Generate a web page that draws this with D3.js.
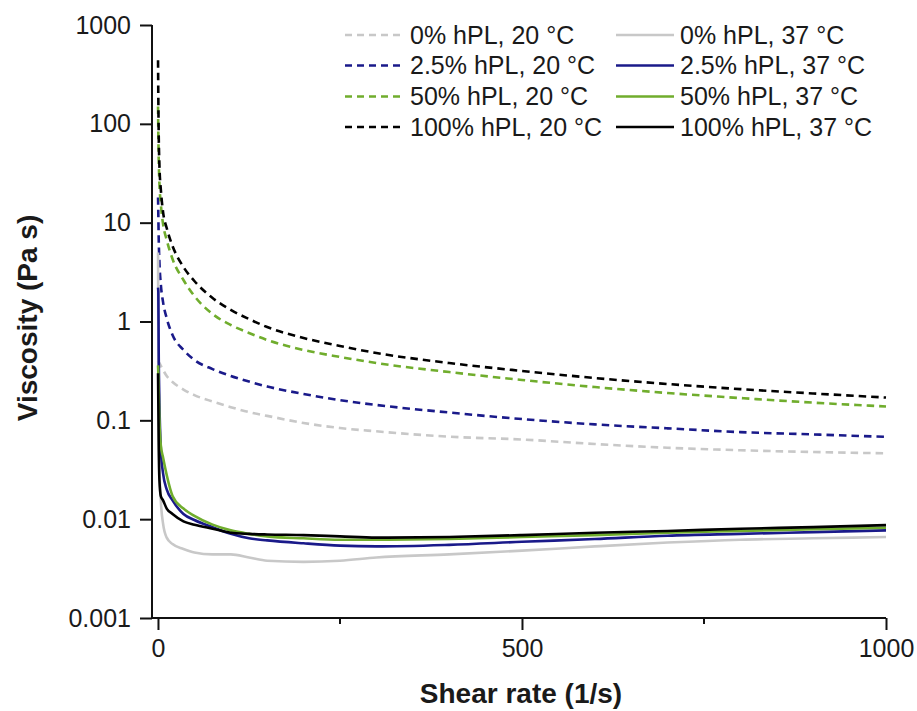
<!DOCTYPE html>
<html>
<head>
<meta charset="utf-8">
<script src="https://cdn.jsdelivr.net/npm/d3@7"></script>
<style>
  html, body { margin: 0; padding: 0; background: #ffffff; }
  svg { display: block; }
</style>
</head>
<body>
<svg id="chart" width="917" height="711"></svg>
<script>
// Shear rate samples (1/s)
const shearRate = [0.1, 0.5, 1, 2, 4, 7, 12, 20, 35, 50, 75, 100, 125, 150, 200, 250, 300, 400, 500, 600, 700, 800, 900, 1000];

// Viscosity (Pa s) — 20 °C (dashed)
const hPL0_20   = [0.40, 0.39, 0.385, 0.380, 0.355, 0.323, 0.281, 0.244, 0.205, 0.180, 0.155, 0.136, 0.121, 0.111, 0.094, 0.0836, 0.0774, 0.0683, 0.0640, 0.0576, 0.0528, 0.0498, 0.0478, 0.0464];
const hPL25_20  = [18, 12, 7, 4, 2.34, 1.57, 1.08, 0.73, 0.515, 0.408, 0.330, 0.281, 0.247, 0.220, 0.185, 0.160, 0.143, 0.120, 0.103, 0.091, 0.083, 0.076, 0.072, 0.068];
const hPL50_20  = [150, 80, 45, 25, 15.1, 9.7, 6.68, 4.29, 2.63, 1.81, 1.19, 0.922, 0.766, 0.650, 0.515, 0.438, 0.380, 0.308, 0.256, 0.217, 0.189, 0.168, 0.151, 0.138];
const hPL100_20 = [440, 180, 80, 38, 21.4, 12.8, 8.83, 5.81, 3.56, 2.57, 1.73, 1.31, 1.06, 0.879, 0.681, 0.565, 0.480, 0.380, 0.316, 0.268, 0.233, 0.207, 0.187, 0.170];

// Viscosity (Pa s) — 37 °C (solid)
const hPL0_37   = [5, 0.6, 0.1, 0.035, 0.015, 0.009, 0.0065, 0.0056, 0.0050, 0.0046, 0.0044, 0.0044, 0.0041, 0.0038, 0.0037, 0.0038, 0.0041, 0.0044, 0.0048, 0.0053, 0.0058, 0.0062, 0.0064, 0.0066];
const hPL25_37  = [2.2, 2.0, 0.5, 0.15, 0.05, 0.029, 0.02, 0.0155, 0.0113, 0.0098, 0.0083, 0.0071, 0.0064, 0.0061, 0.0057, 0.0054, 0.0053, 0.0055, 0.0059, 0.0063, 0.0068, 0.0071, 0.0074, 0.0077];
const hPL50_37  = [0.36, 0.3, 0.2, 0.1, 0.055, 0.042, 0.028, 0.0172, 0.0128, 0.0108, 0.0088, 0.0077, 0.0071, 0.0067, 0.0064, 0.0062, 0.0062, 0.0063, 0.0066, 0.0069, 0.0073, 0.0076, 0.0079, 0.0082];
const hPL100_37 = [0.3, 0.15, 0.06, 0.025, 0.017, 0.0155, 0.0128, 0.0113, 0.0095, 0.0088, 0.008, 0.0073, 0.0071, 0.007, 0.0069, 0.0067, 0.0065, 0.0066, 0.0069, 0.0073, 0.0076, 0.008, 0.0083, 0.0087];

const seriesNames = ["0% hPL, 20 °C", "2.5% hPL, 20 °C", "50% hPL, 20 °C", "100% hPL, 20 °C",
                     "0% hPL, 37 °C", "2.5% hPL, 37 °C", "50% hPL, 37 °C", "100% hPL, 37 °C"];
const seriesValues = [hPL0_20, hPL25_20, hPL50_20, hPL100_20, hPL0_37, hPL25_37, hPL50_37, hPL100_37];

const yTicks = [0.001, 0.01, 0.1, 1, 10, 100, 1000];
const yTickLabels = ["0.001", "0.01", "0.1", "1", "10", "100", "1000"];
const xTicksMajor = [0, 500, 1000];
const xTicksMinor = [250, 750];

const colors = ["#c8c8c8", "#1a1a8a", "#70ad2d", "#000000"];

const svg = d3.select("#chart");
const x = d3.scaleLinear().domain([-8.2, 1000]).range([152, 886]);
const y = d3.scaleLog().domain([0.001, 1000]).range([618, 25]);

const FONT = "'Liberation Sans', Arial, sans-serif";

// Lines
const line = d3.line()
  .x((d, i) => x(shearRate[i]))
  .y(d => y(d))
  .curve(d3.curveMonotoneX);

[0, 1, 2, 3, 4, 5, 6, 7].forEach(k => {
  const dashed = k < 4;
  svg.append("path")
    .datum(seriesValues[k])
    .attr("d", line)
    .attr("fill", "none")
    .attr("stroke", colors[k % 4])
    .attr("stroke-width", 2.6)
    .attr("stroke-dasharray", dashed ? "7.5,5" : null)
    .attr("stroke-linejoin", "round");
});

// Y axis
const yAxis = d3.axisLeft(y)
  .tickValues(yTicks)
  .tickFormat((d, i) => yTickLabels[i])
  .tickSize(12)
  .tickPadding(9);
const gy = svg.append("g").attr("transform", "translate(152,0)").call(yAxis);
gy.select(".domain").attr("d", "M0,25V618").attr("stroke-width", 2).attr("stroke", "#111");
gy.selectAll(".tick line").attr("stroke-width", 2).attr("stroke", "#111");
gy.selectAll(".tick text").attr("font-family", FONT).attr("font-size", 25).attr("fill", "#1a1a1a");

// X axis
const xAxis = d3.axisBottom(x)
  .tickValues(xTicksMajor)
  .tickFormat(d3.format("d"))
  .tickSize(12)
  .tickPadding(9);
const gx = svg.append("g").attr("transform", "translate(0,618)").call(xAxis);
gx.select(".domain").attr("d", "M152,0H886").attr("stroke-width", 2).attr("stroke", "#111");
gx.selectAll(".tick line").attr("stroke-width", 2).attr("stroke", "#111");
gx.selectAll(".tick text").attr("font-family", FONT).attr("font-size", 25).attr("fill", "#1a1a1a");

svg.append("g").selectAll("line.minor")
  .data(xTicksMinor).enter().append("line")
  .attr("x1", d => x(d)).attr("x2", d => x(d))
  .attr("y1", 618).attr("y2", 624)
  .attr("stroke", "#111").attr("stroke-width", 2);

// Axis titles
svg.append("text")
  .attr("x", 521).attr("y", 703)
  .attr("text-anchor", "middle")
  .attr("font-family", FONT).attr("font-weight", "bold").attr("font-size", 28)
  .attr("fill", "#1a1a1a")
  .text("Shear rate (1/s)");

svg.append("text")
  .attr("transform", "translate(37,318) rotate(-90)")
  .attr("text-anchor", "middle")
  .attr("font-family", FONT).attr("font-weight", "bold").attr("font-size", 28)
  .attr("fill", "#1a1a1a")
  .text("Viscosity (Pa s)");

// Legend
const legendRowsY = [35, 65.5, 96.5, 127];
const legendCols = [{x1: 345, x2: 404, tx: 410}, {x1: 616, x2: 674, tx: 680}];
seriesNames.forEach((name, k) => {
  const col = legendCols[k < 4 ? 0 : 1];
  const row = k % 4;
  const ly = legendRowsY[row];
  svg.append("line")
    .attr("x1", col.x1).attr("x2", col.x2)
    .attr("y1", ly).attr("y2", ly)
    .attr("stroke", colors[row])
    .attr("stroke-width", 2.6)
    .attr("stroke-dasharray", k < 4 ? "7,5" : null);
  svg.append("text")
    .attr("x", col.tx).attr("y", ly)
    .attr("dy", "0.35em")
    .attr("font-family", FONT).attr("font-size", 25)
    .attr("fill", "#1a1a1a")
    .text(name);
});
</script>
</body>
</html>
